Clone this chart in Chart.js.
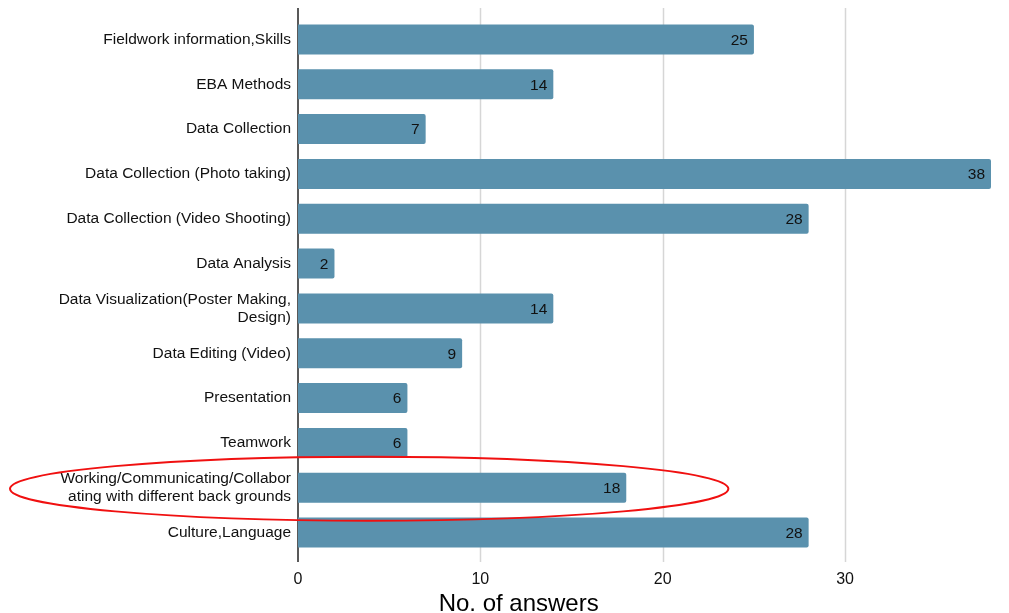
<!DOCTYPE html>
<html>
<head>
<meta charset="utf-8">
<script src="https://cdn.jsdelivr.net/npm/chart.js@4/dist/chart.umd.min.js"></script>
<style>
    body { margin: 0; background: #fff; }
    #wrap { width: 1009px; height: 613px; position: relative; }
</style>
</head>
<body>
<div id="wrap"><canvas id="grafico"></canvas></div>
<script>
const categories = [
    "Fieldwork information,Skills",
    "EBA Methods",
    "Data Collection",
    "Data Collection (Photo taking)",
    "Data Collection (Video Shooting)",
    "Data Analysis",
    ["Data Visualization(Poster Making,", "Design)"],
    "Data Editing (Video)",
    "Presentation",
    "Teamwork",
    ["Working/Communicating/Collabor", "ating with different back grounds"],
    "Culture,Language"
];
const answers = [25, 14, 7, 38, 28, 2, 14, 9, 6, 6, 18, 28];
const xTicks = [0, 10, 20, 30];
const xMax = 38;
const axisTitle = "No. of answers";
const circledRow = 10;

const font = "'Liberation Sans', Arial, sans-serif";

// grid lines and axis line, a little longer than the plot area
const gridPlugin = {
    id: "grid",
    beforeDatasetsDraw(chart) {
        const ctx = chart.ctx;
        const area = chart.chartArea;
        const x = chart.scales.x;
        ctx.save();
        ctx.strokeStyle = "#d6d6d6";
        ctx.lineWidth = 1.5;
        xTicks.forEach(function (v) {
            if (v === 0) return;
            const px = Math.round(x.getPixelForValue(v)) + 0.5;
            ctx.beginPath();
            ctx.moveTo(px, area.top - 9);
            ctx.lineTo(px, area.bottom + 7);
            ctx.stroke();
        });
        ctx.strokeStyle = "#222";
        ctx.lineWidth = 1.5;
        const x0 = x.getPixelForValue(0);
        ctx.beginPath();
        ctx.moveTo(x0, area.top - 9);
        ctx.lineTo(x0, area.bottom + 7);
        ctx.stroke();
        ctx.restore();
    }
};

// numbers at the end of each bar, plus axis title and the red ring
const labelPlugin = {
    id: "labels",
    afterDatasetsDraw(chart) {
        const ctx = chart.ctx;
        const meta = chart.getDatasetMeta(0);
        ctx.save();
        ctx.font = "15.5px " + font;
        ctx.fillStyle = "#111";
        ctx.textAlign = "right";
        ctx.textBaseline = "middle";
        meta.data.forEach(function (bar, i) {
            ctx.fillText(String(answers[i]), bar.x - 6, bar.y + 1);
        });
        ctx.restore();
    },
    afterDraw(chart) {
        const ctx = chart.ctx;
        const area = chart.chartArea;
        const x = chart.scales.x;
        const y = chart.scales.y;

        ctx.save();
        ctx.font = "24px " + font;
        ctx.fillStyle = "#000";
        ctx.textAlign = "center";
        ctx.textBaseline = "middle";
        ctx.fillText(axisTitle, x.getPixelForValue(12.1), chart.height - 9);

        const cy = y.getPixelForValue(circledRow) + 1;
        const right = x.getPixelForValue(23.6);
        const left = area.left - 288;
        ctx.strokeStyle = "#f01010";
        ctx.lineWidth = 2;
        ctx.beginPath();
        ctx.ellipse((left + right) / 2, cy, (right - left) / 2, 32, 0, 0, Math.PI * 2);
        ctx.stroke();
        ctx.restore();
    }
};

new Chart(document.getElementById("grafico"), {
    type: "bar",
    data: {
        labels: categories,
        datasets: [{
            data: answers,
            backgroundColor: "#5a91ad",
            borderRadius: 2,
            categoryPercentage: 1,
            barPercentage: 0.67
        }]
    },
    options: {
        indexAxis: "y",
        responsive: true,
        maintainAspectRatio: false,
        animation: false,
        layout: {
            padding: { top: 17, right: 18, left: 0, bottom: 0 }
        },
        plugins: {
            legend: { display: false },
            tooltip: { enabled: false }
        },
        scales: {
            x: {
                min: 0,
                max: xMax,
                afterBuildTicks(scale) {
                    scale.ticks = xTicks.map(function (v) { return { value: v }; });
                },
                afterFit(scale) {
                    scale.height = 58;
                },
                grid: { display: false, drawTicks: false },
                border: { display: false },
                ticks: {
                    padding: 15,
                    color: "#111",
                    font: { family: font, size: 16 }
                }
            },
            y: {
                afterFit(scale) {
                    scale.width = 298;
                },
                grid: { display: false, drawTicks: false },
                border: { display: false },
                ticks: {
                    padding: 7,
                    color: "#111",
                    font: { family: font, size: 15.5, lineHeight: 1.15 }
                }
            }
        }
    },
    plugins: [gridPlugin, labelPlugin]
});
</script>
</body>
</html>
